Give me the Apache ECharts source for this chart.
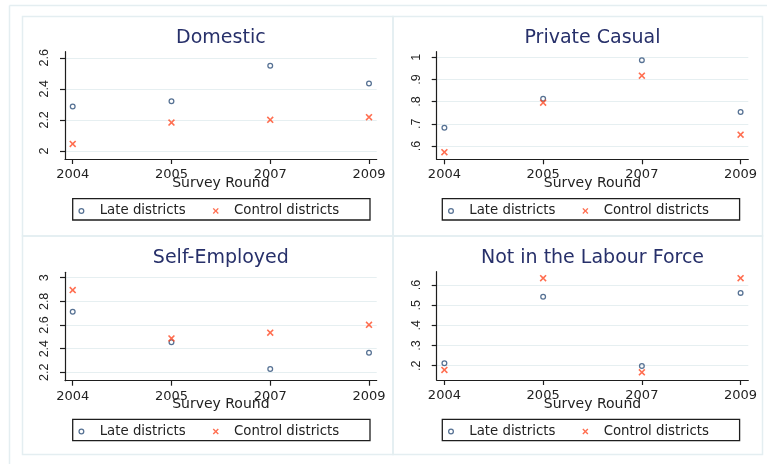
<!DOCTYPE html>
<html>
<head>
<meta charset="utf-8">
<script src="https://cdn.jsdelivr.net/npm/echarts@6/dist/echarts.min.js"></script>
<style>
  html, body { margin: 0; padding: 0; background: #ffffff; }
  #chart { width: 767px; height: 464px; }
</style>
</head>
<body>
<div id="chart"></div>
<script>
// Survey rounds on the x axis (evenly spaced categories)
const rounds = ['2004', '2005', '2007', '2009'];
const seriesNames = ['Late districts', 'Control districts'];

// Panel titles
const panelTitles = ['Domestic', 'Private Casual', 'Self-Employed', 'Not in the Labour Force'];

// Mean values per round, one pair of arrays per panel
const domesticLate    = [2.286, 2.32, 2.548, 2.434];
const domesticControl = [2.045, 2.183, 2.2, 2.217];
const casualLate      = [0.682, 0.813, 0.987, 0.753];
const casualControl   = [0.572, 0.795, 0.917, 0.651];
const selfEmpLate     = [2.712, 2.454, 2.228, 2.366];
const selfEmpControl  = [2.896, 2.487, 2.535, 2.602];
const nilfLate        = [0.212, 0.542, 0.198, 0.561];
const nilfControl     = [0.179, 0.634, 0.167, 0.634];

// Y tick values per panel
const domesticTicks = [2, 2.2, 2.4, 2.6];
const casualTicks   = [0.6, 0.7, 0.8, 0.9, 1];
const selfEmpTicks  = [2.2, 2.4, 2.6, 2.8, 3];
const nilfTicks     = [0.2, 0.3, 0.4, 0.5, 0.6];

const panels = [
  { title: panelTitles[0], late: domesticLate, control: domesticControl, ticks: domesticTicks,
    yMin: 1.948, yMax: 2.639, grid: { left: 65, top: 51.7, width: 311.7, height: 107.3 } },
  { title: panelTitles[1], late: casualLate, control: casualControl, ticks: casualTicks,
    yMin: 0.54, yMax: 1.025, grid: { left: 436.7, top: 51.7, width: 311.6, height: 107.6 } },
  { title: panelTitles[2], late: selfEmpLate, control: selfEmpControl, ticks: selfEmpTicks,
    yMin: 2.129, yMax: 3.046, grid: { left: 65, top: 272.3, width: 311.7, height: 108.4 } },
  { title: panelTitles[3], late: nilfLate, control: nilfControl, ticks: nilfTicks,
    yMin: 0.129, yMax: 0.666, grid: { left: 436.7, top: 271.7, width: 311.6, height: 108.3 } }
];

const LATE_COLOR = '#2c4d78';
const CONTROL_COLOR = '#ff4a24';
const AXIS_COLOR = '#1e1e1e';
const GRID_COLOR = '#e6eff1';
const FRAME_COLOR = '#e4eef1';
const TEXT_FONT = '"DejaVu Sans", sans-serif';
// Hollow ring and filled "x" marker shapes
const RING = 'path://M5,0A5,5 0 1 1 5,10A5,5 0 1 1 5,0ZM5,2.1A2.9,2.9 0 1 0 5,7.9A2.9,2.9 0 1 0 5,2.1Z';
const CROSS = 'path://M0,1.6L1.6,0L5,3.4L8.4,0L10,1.6L6.6,5L10,8.4L8.4,10L5,6.6L1.6,10L0,8.4L3.4,5Z';

const roundIdx = rounds.map((_, i) => i);
const fmtTick = v => String(+v.toFixed(2)).replace(/^0\./, '.');

const option = {
  backgroundColor: '#ffffff',
  animation: false,
  title: [],
  legend: [],
  grid: [],
  xAxis: [],
  yAxis: [],
  series: [],
  graphic: []
};

// Light frames around the combined figure and each panel
const frame = (shape, type) => ({
  type, shape, silent: true,
  style: { fill: 'none', stroke: FRAME_COLOR, lineWidth: 1.5 }
});
option.graphic.push(
  frame({ x1: 9.5, y1: 5.5, x2: 767, y2: 5.5 }, 'line'),
  frame({ x1: 9.5, y1: 5.5, x2: 9.5, y2: 464 }, 'line'),
  frame({ x: 22.5, y: 16.5, width: 370.5, height: 219.5 }, 'rect'),
  frame({ x: 393, y: 16.5, width: 369.5, height: 219.5 }, 'rect'),
  frame({ x: 22.5, y: 236, width: 370.5, height: 218.5 }, 'rect'),
  frame({ x: 393, y: 236, width: 369.5, height: 218.5 }, 'rect')
);

panels.forEach((p, i) => {
  const g = p.grid;
  const cx = g.left + g.width / 2;
  const titleTop = i < 2 ? 29 : 249;
  const boxTop = i < 2 ? 198.7 : 419.3;
  const boxLeft = i % 2 === 0 ? 72.7 : 442.3;

  option.title.push({
    text: p.title,
    left: cx,
    top: titleTop,
    textAlign: 'center',
    padding: 0,
    textStyle: { fontFamily: TEXT_FONT, fontSize: 19, fontWeight: 'normal', color: '#27306a' }
  });

  option.grid.push({ left: g.left, top: g.top, width: g.width, height: g.height, containLabel: false });

  option.xAxis.push({
    type: 'value',
    gridIndex: i,
    min: -0.078,
    max: 3.078,
    name: 'Survey Round',
    nameLocation: 'middle',
    nameGap: 17,
    nameMoveOverlap: false,
    nameTextStyle: { fontFamily: TEXT_FONT, fontSize: 14, color: '#222' },
    axisLine: { show: true, onZero: false, lineStyle: { color: AXIS_COLOR, width: 1.2 } },
    axisTick: { show: true, length: 5, customValues: roundIdx, lineStyle: { color: AXIS_COLOR, width: 1.2 } },
    axisLabel: {
      customValues: roundIdx,
      margin: 9,
      formatter: v => rounds[Math.round(v)],
      fontFamily: TEXT_FONT, fontSize: 13, color: '#222'
    },
    splitLine: { show: false }
  });

  option.yAxis.push({
    type: 'value',
    gridIndex: i,
    min: p.yMin,
    max: p.yMax,
    axisLine: { show: true, onZero: false, lineStyle: { color: AXIS_COLOR, width: 1.2 } },
    axisTick: { show: true, length: 5, customValues: p.ticks, lineStyle: { color: AXIS_COLOR, width: 1.2 } },
    axisLabel: {
      customValues: p.ticks,
      rotate: 90,
      margin: 14,
      formatter: fmtTick,
      fontFamily: '"Liberation Sans", Arial, sans-serif', fontSize: 12.5, color: '#222'
    },
    splitLine: { show: true, lineStyle: { color: GRID_COLOR, width: 1.2 } }
  });

  option.series.push({
    type: 'scatter',
    name: seriesNames[0],
    xAxisIndex: i,
    yAxisIndex: i,
    symbol: RING,
    symbolSize: 6,
    itemStyle: { color: LATE_COLOR },
    data: p.late.map((v, k) => [k, v])
  }, {
    type: 'scatter',
    name: seriesNames[1],
    xAxisIndex: i,
    yAxisIndex: i,
    symbol: CROSS,
    symbolSize: 7,
    itemStyle: { color: CONTROL_COLOR },
    data: p.control.map((v, k) => [k, v])
  });

  // Legend frame
  option.graphic.push({
    type: 'rect', silent: true,
    shape: { x: boxLeft, y: boxTop, width: 297.3, height: 21.3 },
    style: { fill: 'none', stroke: '#1e1e1e', lineWidth: 1.3 }
  });

  option.legend.push({
    left: boxLeft + 5.7,
    top: boxTop + 5.7,
    orient: 'horizontal',
    data: [
      { name: seriesNames[0], icon: RING },
      { name: seriesNames[1], icon: CROSS }
    ],
    itemWidth: 26.6,
    itemHeight: 6,
    itemGap: 27,
    padding: 0,
    selectedMode: false,
    textStyle: { fontFamily: TEXT_FONT, fontSize: 13.3, color: '#222' }
  });
});

const chart = echarts.init(document.getElementById('chart'), null, { renderer: 'canvas' });
chart.setOption(option);
</script>
</body>
</html>
